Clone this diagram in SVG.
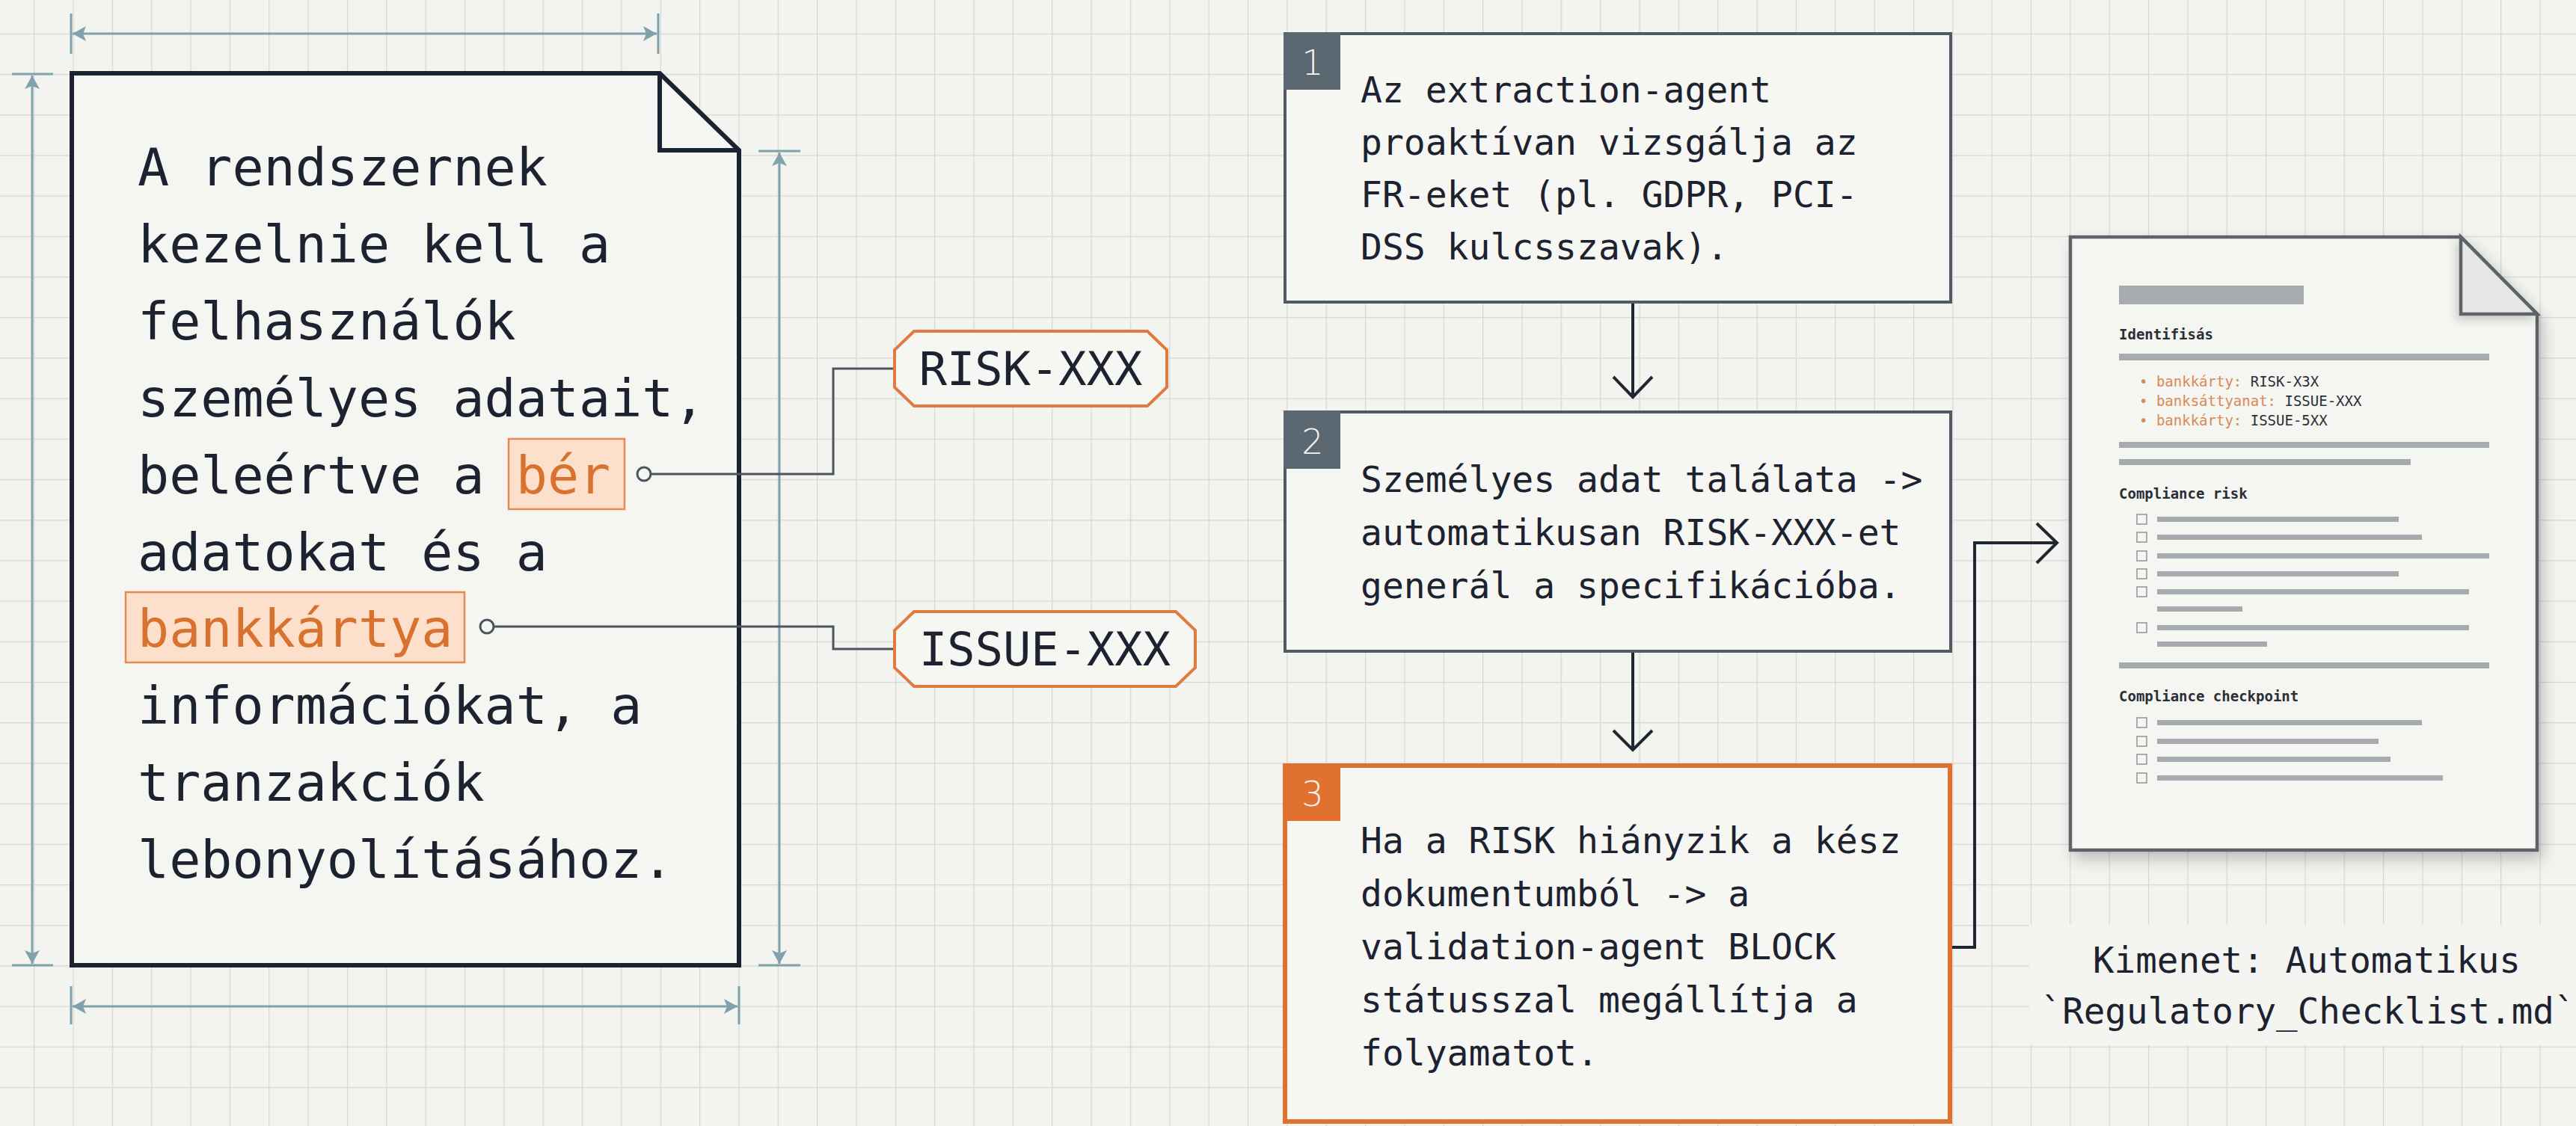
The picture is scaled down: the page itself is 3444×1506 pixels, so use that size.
<svg xmlns="http://www.w3.org/2000/svg" width="3444" height="1506" viewBox="0 0 3444 1506">
<style>
.mono{font-family:"DejaVu Sans Mono","Liberation Mono",monospace}
.doctext{font-size:70px;fill:#1c2230}
.hl{fill:#d9722f}
.step{font-size:48px;fill:#1c2230}
.tagnum{font-size:46px;fill:#f4f4f0;font-family:"DejaVu Sans","Liberation Sans",sans-serif;font-weight:300}
.dim{stroke:#7fa2ad;stroke-width:3;fill:none}
.conn{stroke:#4a5561;stroke-width:3;fill:none}
.flow{stroke:#1f2733;stroke-width:4;fill:none}
.box{fill:#f6f6f2;stroke:#4f5a64;stroke-width:4}
.box3{fill:#f6f6f2;stroke:#e0712f;stroke-width:6}
.tag{fill:#5b6872}
.tag3{fill:#e0712f}
.tagbox{fill:#f6f6f2;stroke:#e07a3d;stroke-width:4}
.tagtext{font-size:62px;fill:#1c2230}
.bar{fill:#a5abaf}
.cb{fill:none;stroke:#9fa5aa;stroke-width:1.8}
.mini{font-size:19px;fill:#2a2f36;font-weight:bold}
.minib{font-size:19px;fill:#2a2f36}
.minio{fill:#d98a55}
.cap{font-size:47.5px;fill:#1c2230}
</style>
<defs>
<pattern id="grid" patternUnits="userSpaceOnUse" x="-7.3" y="-9.5" width="52.35" height="54.2">
<rect width="52.35" height="54.2" fill="#f3f3ef"/>
<path d="M0,0 V54.2 M0,0 H52.35" stroke="#d7d7d2" stroke-width="2.4" fill="none"/>
</pattern>
<marker id="dimarrow" viewBox="0 0 18 20" refX="18" refY="10" markerWidth="18" markerHeight="20" markerUnits="userSpaceOnUse" orient="auto-start-reverse">
<path d="M0,0 L18,10 L0,20 L4,10 Z" fill="#7fa2ad"/>
</marker>
<filter id="shadow" x="-10%" y="-10%" width="130%" height="130%">
<feDropShadow dx="6" dy="10" stdDeviation="10" flood-color="#000" flood-opacity="0.22"/>
</filter>
<filter id="foldshadow" x="-30%" y="-30%" width="160%" height="160%">
<feDropShadow dx="-4" dy="6" stdDeviation="6" flood-color="#000" flood-opacity="0.18"/>
</filter>
</defs>

<rect width="3444" height="1506" fill="url(#grid)"/>

<g id="dimensions">
<line class="dim" x1="95" y1="18" x2="95" y2="72"/>
<line class="dim" x1="880" y1="18" x2="880" y2="72"/>
<line class="dim" x1="97" y1="45" x2="878" y2="45" marker-start="url(#dimarrow)" marker-end="url(#dimarrow)"/>
<line class="dim" x1="16" y1="99" x2="71" y2="99"/>
<line class="dim" x1="16" y1="1291" x2="71" y2="1291"/>
<line class="dim" x1="43" y1="101" x2="43" y2="1289" marker-start="url(#dimarrow)" marker-end="url(#dimarrow)"/>
<line class="dim" x1="1014" y1="202" x2="1070" y2="202"/>
<line class="dim" x1="1014" y1="1291" x2="1070" y2="1291"/>
<line class="dim" x1="1042" y1="204" x2="1042" y2="1289" marker-start="url(#dimarrow)" marker-end="url(#dimarrow)"/>
<line class="dim" x1="95" y1="1319" x2="95" y2="1370"/>
<line class="dim" x1="988" y1="1319" x2="988" y2="1370"/>
<line class="dim" x1="97" y1="1346" x2="986" y2="1346" marker-start="url(#dimarrow)" marker-end="url(#dimarrow)"/>
</g>

<g id="source-doc">
<path d="M96,98 L882,98 L988,201 L988,1291 L96,1291 Z" fill="#f5f5f1" stroke="#1b2333" stroke-width="6" stroke-linejoin="miter"/>
<path d="M882,98 L882,201 L988,201" fill="none" stroke="#1b2333" stroke-width="6"/>
<rect x="680" y="587" width="155" height="94" fill="#fde0cb" stroke="#e58a50" stroke-width="2.5"/>
<rect x="168" y="792" width="453" height="94" fill="#fde0cb" stroke="#e58a50" stroke-width="2.5"/>
<g class="mono doctext">
<text x="184" y="248">A rendszernek</text>
<text x="184" y="351">kezelnie kell a</text>
<text x="184" y="454">felhasználók</text>
<text x="184" y="557">személyes adatait,</text>
<text x="184" y="660">beleértve a <tspan class="hl">bér</tspan></text>
<text x="184" y="763">adatokat és a</text>
<text x="184" y="865" class="hl">bankkártya</text>
<text x="184" y="968">információkat, a</text>
<text x="184" y="1071">tranzakciók</text>
<text x="184" y="1174">lebonyolításához.</text>
</g>
</g>

<g id="connectors">
<path class="conn" d="M871,634 H1114 V493 H1196"/>
<circle cx="861" cy="634" r="9" fill="#f5f5f1" stroke="#4a5561" stroke-width="3"/>
<path class="conn" d="M661,838 H1114 V868 H1196"/>
<circle cx="651" cy="838" r="9" fill="#f5f5f1" stroke="#4a5561" stroke-width="3"/>
<path class="flow" d="M2183,404 V531"/>
<path class="flow" d="M2157,504 L2183,531 L2209,504"/>
<path class="flow" d="M2183,871 V1003"/>
<path class="flow" d="M2157,977 L2183,1003 L2209,977"/>
<path class="flow" d="M2608,1267 H2640 V726 H2749"/>
<path class="flow" d="M2723,700 L2750,726 L2723,753"/>
</g>

<g id="risk-tag">
<path class="tagbox" d="M1222,443 H1534 L1560,468 V518 L1534,543 H1222 L1196,518 V468 Z"/>
<text class="mono tagtext" x="1378" y="515" text-anchor="middle">RISK-XXX</text>
</g>
<g id="issue-tag">
<path class="tagbox" d="M1222,818 H1572 L1598,843 V893 L1572,918 H1222 L1196,893 V843 Z"/>
<text class="mono tagtext" x="1397" y="890" text-anchor="middle">ISSUE-XXX</text>
</g>

<g id="step1">
<rect class="box" x="1718" y="45" width="890" height="359"/>
<rect class="tag" x="1716" y="43" width="76" height="77"/>
<text class="tagnum" x="1755" y="100" text-anchor="middle">1</text>
<g class="mono step">
<text x="1819" y="137">Az extraction-agent</text>
<text x="1819" y="207">proaktívan vizsgálja az</text>
<text x="1819" y="277">FR-eket (pl. GDPR, PCI-</text>
<text x="1819" y="347">DSS kulcsszavak).</text>
</g>
</g>

<g id="step2">
<rect class="box" x="1718" y="551" width="890" height="320"/>
<rect class="tag" x="1716" y="549" width="76" height="78"/>
<text class="tagnum" x="1755" y="607" text-anchor="middle">2</text>
<g class="mono step">
<text x="1819" y="658">Személyes adat találata -&gt;</text>
<text x="1819" y="729">automatikusan RISK-XXX-et</text>
<text x="1819" y="800">generál a specifikációba.</text>
</g>
</g>

<g id="step3">
<rect class="box3" x="1718" y="1024" width="889" height="476"/>
<rect class="tag3" x="1716" y="1022" width="76" height="76"/>
<text class="tagnum" x="1755" y="1078" text-anchor="middle">3</text>
<g class="mono step">
<text x="1819" y="1141">Ha a RISK hiányzik a kész</text>
<text x="1819" y="1212">dokumentumból -&gt; a</text>
<text x="1819" y="1283">validation-agent BLOCK</text>
<text x="1819" y="1354">státusszal megállítja a</text>
<text x="1819" y="1425">folyamatot.</text>
</g>
</g>

<g id="output-doc">
<path d="M2768,317 L3290,317 L3392,420 L3392,1137 L2768,1137 Z" fill="#f5f5f2" stroke="#5b646b" stroke-width="4.5" filter="url(#shadow)"/>
<path d="M3290,317 L3290,420 L3392,420 Z" fill="#e6e6e4" stroke="#5b646b" stroke-width="4.5" stroke-linejoin="miter" filter="url(#foldshadow)"/>
<rect class="bar" x="2833" y="382" width="247" height="25" fill="#a8afb4"/>
<text class="mono mini" x="2833" y="454">Identifisás</text>
<rect class="bar" x="2833" y="473" width="495" height="9"/>
<g class="mono minib">
<text x="2860" y="517"><tspan class="minio">• bankkárty:</tspan> RISK-X3X</text>
<text x="2860" y="543"><tspan class="minio">• banksáttyanat:</tspan> ISSUE-XXX</text>
<text x="2860" y="569"><tspan class="minio">• bankkárty:</tspan> ISSUE-5XX</text>
</g>
<rect class="bar" x="2833" y="591" width="495" height="8"/>
<rect class="bar" x="2833" y="614" width="390" height="8"/>
<text class="mono mini" x="2833" y="667">Compliance risk</text>
<rect class="cb" x="2857" y="688" width="13" height="13"/>
<rect class="bar" x="2884" y="691" width="323" height="7"/>
<rect class="cb" x="2857" y="712" width="13" height="13"/>
<rect class="bar" x="2884" y="715" width="354" height="7"/>
<rect class="cb" x="2857" y="737" width="13" height="13"/>
<rect class="bar" x="2884" y="740" width="444" height="7"/>
<rect class="cb" x="2857" y="761" width="13" height="13"/>
<rect class="bar" x="2884" y="764" width="323" height="7"/>
<rect class="cb" x="2857" y="785" width="13" height="13"/>
<rect class="bar" x="2884" y="788" width="417" height="7"/>
<rect class="bar" x="2884" y="811" width="114" height="7"/>
<rect class="cb" x="2857" y="833" width="13" height="13"/>
<rect class="bar" x="2884" y="836" width="417" height="7"/>
<rect class="bar" x="2884" y="858" width="147" height="7"/>
<rect class="bar" x="2833" y="886" width="495" height="8"/>
<text class="mono mini" x="2833" y="938">Compliance checkpoint</text>
<rect class="cb" x="2857" y="960" width="13" height="13"/>
<rect class="bar" x="2884" y="963" width="354" height="7"/>
<rect class="cb" x="2857" y="985" width="13" height="13"/>
<rect class="bar" x="2884" y="988" width="296" height="7"/>
<rect class="cb" x="2857" y="1009" width="13" height="13"/>
<rect class="bar" x="2884" y="1012" width="312" height="7"/>
<rect class="cb" x="2857" y="1034" width="13" height="13"/>
<rect class="bar" x="2884" y="1037" width="382" height="7"/>
</g>

<g id="caption">
<rect x="2713" y="1237" width="731" height="161" fill="#f4f4f1"/>
<text class="mono cap" x="3084" y="1301" text-anchor="middle">Kimenet: Automatikus</text>
<text class="mono cap" x="3086" y="1369" text-anchor="middle">`Regulatory_Checklist.md`</text>
</g>
</svg>
